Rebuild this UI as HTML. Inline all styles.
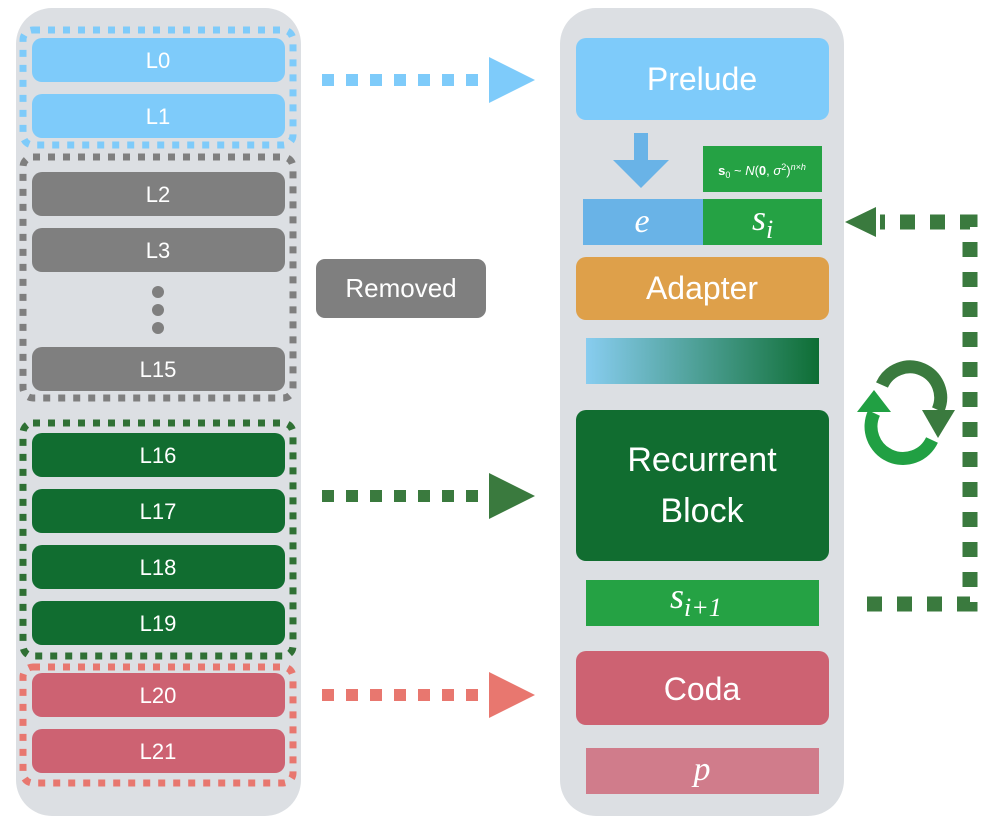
<!DOCTYPE html>
<html><head><meta charset="utf-8"><style>
html,body{margin:0;padding:0;background:#fff;}
svg{display:block;}
text{font-family:"Liberation Sans",sans-serif;fill:#fff;}
.m{font-family:"Liberation Serif",serif;font-style:italic;}
</style></head><body>
<svg width="996" height="822" viewBox="0 0 996 822" xmlns="http://www.w3.org/2000/svg">
<defs>
<linearGradient id="g" x1="0" x2="1" y1="0" y2="0">
<stop offset="0" stop-color="#88cdf0"/><stop offset="1" stop-color="#0e6e34"/>
</linearGradient>
</defs>
<rect x="16" y="8" width="285" height="808" rx="36" fill="#dcdfe3"/>
<rect x="560" y="8" width="284" height="808" rx="36" fill="#dcdfe3"/>

<g fill="none" stroke-width="7" stroke-dasharray="7 8">
<rect x="23" y="30" width="270" height="115" rx="10" stroke="#7ecbfa"/>
<rect x="23" y="157" width="270" height="241" rx="10" stroke="#7f7f7f"/>
<rect x="23" y="423" width="270" height="233" rx="10" stroke="#2f7034"/>
<rect x="23" y="667" width="270" height="116" rx="10" stroke="#e8776f"/>
</g>

<g font-size="22" text-anchor="middle">
<rect x="32" y="38" width="253" height="44" rx="10" fill="#7ecbfa"/><text x="158" y="68">L0</text>
<rect x="32" y="94" width="253" height="44" rx="10" fill="#7ecbfa"/><text x="158" y="124">L1</text>
<rect x="32" y="172" width="253" height="44" rx="10" fill="#7f7f7f"/><text x="158" y="202">L2</text>
<rect x="32" y="228" width="253" height="44" rx="10" fill="#7f7f7f"/><text x="158" y="258">L3</text>
<circle cx="158" cy="292" r="6" fill="#7f7f7f"/><circle cx="158" cy="310" r="6" fill="#7f7f7f"/><circle cx="158" cy="328" r="6" fill="#7f7f7f"/>
<rect x="32" y="347" width="253" height="44" rx="10" fill="#7f7f7f"/><text x="158" y="377">L15</text>
<rect x="32" y="433" width="253" height="44" rx="10" fill="#116d30"/><text x="158" y="463">L16</text>
<rect x="32" y="489" width="253" height="44" rx="10" fill="#116d30"/><text x="158" y="519">L17</text>
<rect x="32" y="545" width="253" height="44" rx="10" fill="#116d30"/><text x="158" y="575">L18</text>
<rect x="32" y="601" width="253" height="44" rx="10" fill="#116d30"/><text x="158" y="631">L19</text>
<rect x="32" y="673" width="253" height="44" rx="10" fill="#cd6272"/><text x="158" y="703">L20</text>
<rect x="32" y="729" width="253" height="44" rx="10" fill="#cd6272"/><text x="158" y="759">L21</text>
</g>

<rect x="316" y="259" width="170" height="59" rx="9" fill="#7f7f7f"/>
<text x="401" y="297" font-size="26" text-anchor="middle">Removed</text>

<g stroke-width="12" stroke-dasharray="12 12">
<line x1="322" y1="80" x2="484" y2="80" stroke="#7ecbfa"/>
<line x1="322" y1="496" x2="484" y2="496" stroke="#3a7a3e"/>
<line x1="322" y1="695" x2="484" y2="695" stroke="#e8776f"/>
</g>
<polygon points="489,57 535,80 489,103" fill="#7ecbfa"/>
<polygon points="489,473 535,496 489,519" fill="#3a7a3e"/>
<polygon points="489,672 535,695 489,718" fill="#e8776f"/>

<rect x="576" y="38" width="253" height="82" rx="10" fill="#7ecbfa"/>
<text x="702" y="90" font-size="32" text-anchor="middle">Prelude</text>
<polygon points="634,133 648,133 648,160 669,160 641,188 613,160 634,160" fill="#69b3e7"/>
<rect x="703" y="146" width="119" height="46" fill="#25a244"/>
<text x="762" y="175" font-size="13" text-anchor="middle" font-family="Liberation Serif,serif"><tspan font-weight="bold">s</tspan><tspan font-size="9" dy="3">0</tspan><tspan dy="-3"> ~ </tspan><tspan font-style="italic">N</tspan>(<tspan font-weight="bold">0</tspan>, <tspan font-style="italic">σ</tspan><tspan font-size="9" dy="-5">2</tspan><tspan dy="5">)</tspan><tspan font-size="9" dy="-5" font-style="italic">n×h</tspan></text>
<rect x="583" y="199" width="120" height="46" fill="#69b3e7"/>
<rect x="703" y="199" width="119" height="46" fill="#25a244"/>
<text x="642" y="232" font-size="34" class="m" text-anchor="middle">e</text>
<text x="752" y="230" font-size="36" class="m">s<tspan font-size="26" dy="8">i</tspan></text>

<rect x="576" y="257" width="253" height="63" rx="10" fill="#dea04a"/>
<text x="702" y="299" font-size="32" text-anchor="middle">Adapter</text>
<rect x="586" y="338" width="233" height="46" fill="url(#g)"/>
<rect x="576" y="410" width="253" height="151" rx="10" fill="#116d30"/>
<text x="702" y="471" font-size="34" text-anchor="middle">Recurrent</text>
<text x="702" y="522" font-size="34" text-anchor="middle">Block</text>
<rect x="586" y="580" width="233" height="46" fill="#25a244"/>
<text x="670" y="608" font-size="36" class="m">s<tspan font-size="26" dy="8">i+1</tspan></text>
<rect x="576" y="651" width="253" height="74" rx="10" fill="#cd6272"/>
<text x="702" y="700" font-size="32" text-anchor="middle">Coda</text>
<rect x="586" y="748" width="233" height="46" fill="#d07c8b"/>
<text x="702" y="780" font-size="34" class="m" text-anchor="middle">p</text>

<g stroke="#3a7a3e" stroke-width="15" stroke-dasharray="15 15" fill="none">
<polyline points="867,604 970,604 970,222 880,222"/>
</g>
<polygon points="845,222 876,207 876,237" fill="#3a7a3e"/>

<path d="M 882 385 A 29 29 0 0 1 938 410" stroke="#3a7a3e" stroke-width="13" fill="none"/>
<polygon points="922,410 955,410 938,438" fill="#3a7a3e"/>
<path d="M 932 440 A 29 29 0 0 1 874 413" stroke="#21a043" stroke-width="13" fill="none"/>
<polygon points="857,412 891,412 874,390" fill="#21a043"/>
</svg>
</body></html>
